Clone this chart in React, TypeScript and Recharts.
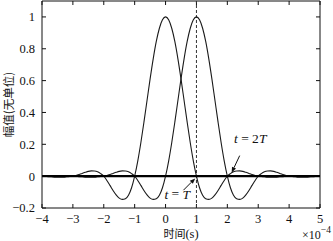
import { LineChart, Line, XAxis, YAxis, ReferenceLine, ReferenceDot } from "recharts";

const serif = '"Liberation Serif", "Times New Roman", serif';
const cjk = '"Noto Sans CJK SC", sans-serif';

// pulse shape, offsets 0 .. 5 (x1e-4 s), step 0.1
const pulseProfile = [
  1, 0.982, 0.929, 0.846, 0.737, 0.611, 0.475, 0.339, 0.21, 0.095,
  0, -0.073, -0.12, -0.142, -0.146, -0.138, -0.118, -0.09, -0.058, -0.027,
  0, 0.016, 0.027, 0.032, 0.033, 0.03, 0.024, 0.017, 0.01, 0.004,
  0, -0.002, -0.004, -0.006, -0.007, -0.007, -0.006, -0.004, -0.003, -0.001,
  0, 0.001, 0.001, 0.001, 0.001, 0.001, 0.001, 0.001, 0, 0, 0,
];
const pulseCenters = [0, 1];
const times = Array.from({ length: 91 }, (_, i) => (i - 40) / 10);

const xTicks = [-4, -3, -2, -1, 0, 1, 2, 3, 4, 5];
const yTicks = [-0.2, 0, 0.2, 0.4, 0.6, 0.8, 1];
const xDomain = [-4, 5];
const yDomain = [-0.2, 1.1];

const data = times.map((t) => {
  const row: Record<string, number> = { t };
  pulseCenters.forEach((c, k) => {
    row["p" + k] = pulseProfile[Math.abs(Math.round((t - c) * 10))] ?? 0;
  });
  return row;
});

const fmt = (v: number) => (v < 0 ? "\u2212" + Math.abs(v) : String(v));

const Arrow = (props: any) => {
  const { x1, y1, x2, y2 } = props;
  const a = Math.atan2(y2 - y1, x2 - x1);
  const L = 5.5;
  const w = 2.2;
  const bx = x2 - L * Math.cos(a);
  const by = y2 - L * Math.sin(a);
  const pts = `${x2},${y2} ${bx + w * Math.sin(a)},${by - w * Math.cos(a)} ${bx - w * Math.sin(a)},${by + w * Math.cos(a)}`;
  return (
    <g>
      <line x1={x1} y1={y1} x2={bx} y2={by} stroke="#111" strokeWidth={1} />
      <polygon points={pts} fill="#111" />
    </g>
  );
};

// short inward tick, drawn from the first point of the segment towards the second
const InTick = (props: any) => {
  const { x1, y1, x2, y2 } = props;
  const len = Math.hypot(x2 - x1, y2 - y1) || 1;
  const ux = (x2 - x1) / len;
  const uy = (y2 - y1) / len;
  return <line x1={x1} y1={y1} x2={x1 + ux * 4} y2={y1 + uy * 4} stroke="#111" strokeWidth={1} />;
};

const annoText = (mult: string) => (props: any) => (
  <text
    x={props.cx}
    y={props.cy}
    textAnchor="middle"
    dominantBaseline="central"
    fontFamily={serif}
    fontSize={13.5}
    fill="#111"
  >
    <tspan fontStyle="italic">t</tspan>
    {" = " + mult}
    <tspan fontStyle="italic">T</tspan>
  </text>
);

const YLabel = (props: any) => {
  const vb = props.viewBox;
  const x = vb.x + 8;
  const y = vb.y + vb.height / 2;
  return (
    <text
      x={x}
      y={y}
      transform={`rotate(-90 ${x} ${y})`}
      textAnchor="middle"
      dominantBaseline="central"
      fontFamily={cjk}
      fontSize={11.5}
      fill="#111"
    >
      幅值(无单位)
    </text>
  );
};

const XLabel = (props: any) => {
  const vb = props.viewBox;
  return (
    <g fill="#111">
      <text x={vb.x + vb.width / 2} y={vb.y + 30} textAnchor="middle" fontSize={11}>
        <tspan fontFamily={cjk}>时间</tspan>
        <tspan fontFamily={serif} fontSize={12.5}>(s)</tspan>
      </text>
      <text x={vb.x + vb.width - 18} y={vb.y + 31} fontFamily={serif} fontSize={12}>
        ×10
        <tspan fontSize={9.5} dy={-6}>{"\u22124"}</tspan>
      </text>
    </g>
  );
};

const tickStyle = { fill: "#111", fontSize: 12.5, fontFamily: serif };

export default function App() {
  const [x0, x1] = xDomain;
  const [y0, y1] = yDomain;
  return (
    <div style={{ position: "absolute", left: 0, top: 0, width: 333, height: 241, background: "#fff" }}>
      <LineChart width={333} height={241} data={data} margin={{ top: 1, right: 13, left: 0, bottom: 0 }}>
        <XAxis
          dataKey="t"
          type="number"
          domain={xDomain}
          ticks={xTicks}
          interval={0}
          allowDataOverflow
          tickLine={false}
          tickSize={0}
          tickMargin={6}
          height={33}
          tickFormatter={fmt}
          tick={tickStyle}
          stroke="#111"
          label={XLabel}
        />
        <YAxis
          type="number"
          domain={yDomain}
          ticks={yTicks}
          interval={0}
          allowDataOverflow
          tickLine={false}
          tickSize={0}
          tickMargin={7}
          width={42}
          tickFormatter={fmt}
          tick={tickStyle}
          stroke="#111"
          label={YLabel}
        />
        {/* box frame */}
        <ReferenceLine y={y1} stroke="#111" strokeWidth={1} />
        <ReferenceLine x={x1} stroke="#111" strokeWidth={1} />
        {xTicks.map((v) => (
          <ReferenceLine key={"b" + v} segment={[{ x: v, y: y0 }, { x: v, y: y1 }]} shape={InTick} />
        ))}
        {xTicks.map((v) => (
          <ReferenceLine key={"t" + v} segment={[{ x: v, y: y1 }, { x: v, y: y0 }]} shape={InTick} />
        ))}
        {yTicks.map((v) => (
          <ReferenceLine key={"l" + v} segment={[{ x: x0, y: v }, { x: x1, y: v }]} shape={InTick} />
        ))}
        {yTicks.map((v) => (
          <ReferenceLine key={"r" + v} segment={[{ x: x1, y: v }, { x: x0, y: v }]} shape={InTick} />
        ))}
        <ReferenceLine x={1} stroke="#333" strokeDasharray="3 2" strokeWidth={1} />
        {pulseCenters.map((c, k) => (
          <Line
            key={c}
            dataKey={"p" + k}
            type="monotone"
            stroke="#1a1a1a"
            strokeWidth={1.1}
            dot={false}
            isAnimationActive={false}
          />
        ))}
        <ReferenceLine y={0} stroke="#000" strokeWidth={2.2} />
        <ReferenceLine
          segment={[
            { x: 0.58, y: -0.088 },
            { x: 0.96, y: -0.014 },
          ]}
          shape={Arrow}
        />
        <ReferenceLine
          segment={[
            { x: 2.4, y: 0.129 },
            { x: 2.14, y: 0.022 },
          ]}
          shape={Arrow}
        />
        <ReferenceDot x={0.38} y={-0.109} r={0} shape={annoText("")} />
        <ReferenceDot x={2.74} y={0.237} r={0} shape={annoText("2")} />
      </LineChart>
    </div>
  );
}
